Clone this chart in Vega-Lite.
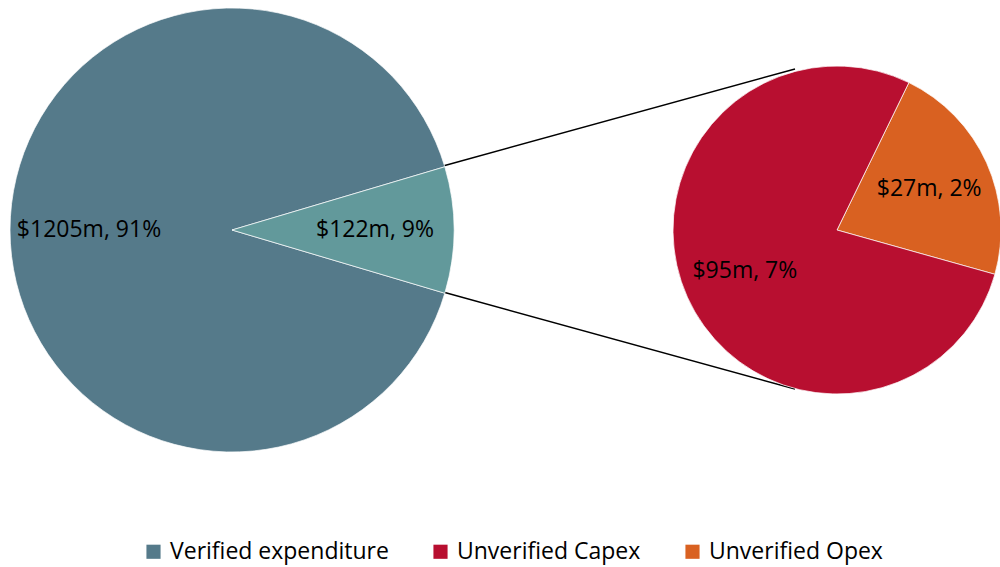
{
  "$schema": "https://vega.github.io/schema/vega-lite/v6.json",
  "width": 1000,
  "height": 460,
  "padding": {"left": 0, "top": 0, "right": 0, "bottom": 8},
  "background": "white",
  "config": {"view": {"stroke": null}, "font": "Open Sans"},
  "datasets": {
    "total": [
      {"pie": "Total", "category": "Verified expenditure", "amount": 1205, "label": "$1205m, 91%", "rank": 1},
      {"pie": "Total", "category": "Unverified", "amount": 122, "label": "$122m, 9%", "rank": 2}
    ],
    "unverified": [
      {"pie": "Unverified", "category": "Unverified Opex", "amount": 27, "label": "$27m, 2%", "rank": 1},
      {"pie": "Unverified", "category": "Unverified Capex", "amount": 95, "label": "$95m, 7%", "rank": 2}
    ],
    "connectors": [
      {"xa": 443, "ya": 166, "xb": 795, "yb": 69},
      {"xa": 443, "ya": 292, "xb": 795, "yb": 389}
    ]
  },
  "layer": [
    {
      "data": {"name": "connectors"},
      "mark": {"type": "rule", "color": "black", "strokeWidth": 1.5},
      "encoding": {
        "x": {"field": "xa", "type": "quantitative", "scale": {"domain": [0, 1000], "nice": false, "zero": false}, "axis": null},
        "y": {"field": "ya", "type": "quantitative", "scale": {"domain": [0, 460], "nice": false, "zero": false, "reverse": true}, "axis": null},
        "x2": {"field": "xb"},
        "y2": {"field": "yb"}
      }
    },
    {
      "data": {"name": "total"},
      "encoding": {
        "theta": {"field": "amount", "type": "quantitative", "stack": true, "scale": {"range": [1.8596, 8.1428]}},
        "order": {"field": "rank", "type": "quantitative"},
        "x": {"field": "pie", "type": "nominal", "scale": {"type": "point", "padding": 0, "domain": ["Total", "Unverified"], "range": [232, 837]}, "axis": null}
      },
      "layer": [
        {
          "mark": {"type": "arc", "outerRadius": 222, "stroke": "white", "strokeWidth": 0.7},
          "encoding": {
            "color": {
              "field": "category", "type": "nominal",
              "scale": {"domain": ["Verified expenditure", "Unverified Capex", "Unverified Opex", "Unverified"], "range": ["#557A8A", "#B80F30", "#D96121", "#62999B"]},
              "legend": {
                "values": ["Verified expenditure", "Unverified Capex", "Unverified Opex"],
                "title": null, "orient": "none", "direction": "horizontal", "columns": 3,
                "legendX": 142, "legendY": 540, "symbolType": "square", "symbolSize": 200,
                "symbolStrokeWidth": 0, "labelFontSize": 23, "labelFont": "Open Sans", "labelColor": "black",
                "labelOffset": 5, "columnPadding": 40, "labelLimit": 400
              }
            }
          }
        },
        {
          "mark": {"type": "text", "radius": 143, "fontSize": 23, "font": "Open Sans", "color": "black"},
          "encoding": {"text": {"field": "label"}}
        }
      ]
    },
    {
      "data": {"name": "unverified"},
      "encoding": {
        "theta": {"field": "amount", "type": "quantitative", "stack": true, "scale": {"range": [0.4538, 6.737]}},
        "order": {"field": "rank", "type": "quantitative"},
        "x": {"field": "pie", "type": "nominal", "scale": {"type": "point", "padding": 0, "domain": ["Total", "Unverified"], "range": [232, 837]}, "axis": null}
      },
      "layer": [
        {
          "mark": {"type": "arc", "outerRadius": 164, "stroke": "white", "strokeWidth": 0.7},
          "encoding": {"color": {"field": "category", "type": "nominal"}}
        },
        {
          "mark": {"type": "text", "radius": 101, "fontSize": 23, "font": "Open Sans", "color": "black"},
          "encoding": {"text": {"field": "label"}}
        }
      ]
    }
  ],
  "resolve": {"scale": {"x": "independent", "y": "independent", "theta": "independent"}}
}
